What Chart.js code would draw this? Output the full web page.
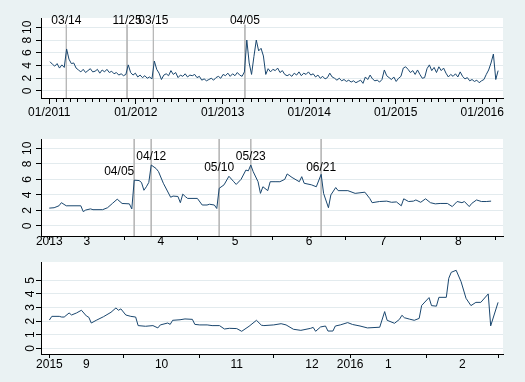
<!DOCTYPE html>
<html>
<head>
<meta charset="utf-8">
<script src="https://cdn.jsdelivr.net/npm/chart.js@4.4.0/dist/chart.umd.min.js"></script>
<style>
  html, body { margin: 0; padding: 0; background: #eaf2f3; }
  body { width: 525px; height: 382px; position: relative; overflow: hidden; }
  canvas { position: absolute; left: 0; }
</style>
</head>
<body>
<canvas id="c1" width="525" height="124" style="top:0px"></canvas>
<canvas id="c2" width="525" height="124" style="top:124px"></canvas>
<canvas id="c3" width="525" height="134" style="top:248px"></canvas>
<script>
// ---- panel 1: full sample, one reading every 10 days from 4 Jan 2011
const p1Start = "2011-01-04";
const p1Step = 10;
const p1Values = [
  4.6, 4.2, 3.9, 4.3, 3.6, 4.1, 3.7, 6.6, 5.0, 4.3,
  4.4, 3.6, 3.3, 3.0, 3.4, 2.9, 3.2, 3.5, 3.0, 3.1,
  3.4, 2.8, 3.3, 3.0, 3.4, 2.9, 3.1, 2.7, 2.9, 2.5,
  2.7, 2.4, 2.6, 4.1, 2.9, 2.5, 2.8, 2.2, 2.5, 2.1,
  2.4, 2.0, 2.2, 1.9, 4.7, 3.4, 2.8, 1.8, 2.5, 2.7,
  2.4, 3.2, 2.6, 2.9, 2.1, 2.5, 2.3, 2.7, 2.2, 2.5,
  2.4, 2.6, 2.1, 2.3, 1.7, 1.9, 1.6, 1.8, 2.0, 1.7,
  2.1, 2.3, 2.0, 2.6, 2.4, 2.8, 2.3, 2.7, 2.4, 2.9,
  2.5, 2.3, 3.0, 8.0, 4.4, 2.6, 5.4, 8.0, 6.3, 6.7,
  5.5, 2.6, 3.5, 3.0, 3.4, 3.2, 3.6, 2.9, 3.2, 2.6,
  2.4, 2.6, 2.3, 2.8, 2.5, 3.0, 2.4, 2.8, 2.6, 3.0,
  2.5, 2.7, 2.2, 2.5, 2.0, 2.3, 1.9, 2.1, 2.8, 2.2,
  2.0, 1.7, 2.0, 1.6, 1.8, 1.5, 1.7, 1.4, 1.6, 1.3,
  1.5, 1.7, 1.2, 2.2, 1.8, 2.5, 1.9, 1.6, 1.7, 1.4,
  1.8, 3.3, 2.4, 2.1, 1.8, 2.2, 1.5, 2.0, 2.3, 3.6,
  3.8, 3.4, 2.9, 3.2, 2.6, 3.3, 2.6, 2.0, 2.1, 3.5,
  4.1, 3.2, 3.7, 2.9, 3.8, 3.2, 3.6, 2.8, 2.2, 2.6,
  2.3, 2.7, 2.2, 3.0, 2.3, 1.9, 2.1, 1.6, 1.8, 1.5,
  1.7, 1.3, 1.6, 1.8, 2.6, 3.3, 4.4, 5.8, 1.8, 3.2
];
const p1Events = ["2011-03-14", "2011-11-25", "2012-03-15", "2013-04-05"];
const p1EventLabels = ["03/14", "11/25", "03/15", "04/05"];
const p1YTicks = [0, 2, 4, 6, 8, 10];
const p1YearLabels = ["01/2011", "01/2012", "01/2013", "01/2014", "01/2015", "01/2016"];

// ---- panel 2: March to August 2013
const p2Dates = [
  "2013-03-01","2013-03-03","2013-03-05","2013-03-06","2013-03-08","2013-03-14","2013-03-15","2013-03-16",
  "2013-03-18","2013-03-19","2013-03-23","2013-03-25","2013-03-27","2013-03-29","2013-03-31","2013-04-03",
  "2013-04-04","2013-04-05","2013-04-07","2013-04-08","2013-04-09","2013-04-10","2013-04-11","2013-04-12",
  "2013-04-14","2013-04-15","2013-04-17","2013-04-20","2013-04-21","2013-04-23","2013-04-24","2013-04-25",
  "2013-04-26","2013-04-27","2013-05-01","2013-05-03","2013-05-05","2013-05-06","2013-05-08","2013-05-09",
  "2013-05-10","2013-05-12","2013-05-14","2013-05-16","2013-05-17","2013-05-19","2013-05-21","2013-05-22",
  "2013-05-23","2013-05-24","2013-05-26","2013-05-27","2013-05-28","2013-05-30","2013-05-31","2013-06-02",
  "2013-06-04","2013-06-06","2013-06-07","2013-06-09","2013-06-12","2013-06-13","2013-06-14","2013-06-17",
  "2013-06-19","2013-06-21","2013-06-22","2013-06-24","2013-06-25","2013-06-27","2013-06-28","2013-07-02",
  "2013-07-05","2013-07-09","2013-07-11","2013-07-12","2013-07-15","2013-07-18","2013-07-20","2013-07-22",
  "2013-07-24","2013-07-25","2013-07-27","2013-07-29","2013-07-30","2013-08-01","2013-08-03","2013-08-05",
  "2013-08-07","2013-08-09","2013-08-12","2013-08-14","2013-08-16","2013-08-18","2013-08-19","2013-08-21",
  "2013-08-22","2013-08-24","2013-08-26","2013-08-28","2013-08-30"
];
const p2Values = [
  2.30, 2.35, 2.60, 3.00, 2.60, 2.60, 1.85, 2.05,
  2.20, 2.10, 2.10, 2.35, 2.90, 3.45, 2.90, 2.85,
  2.20, 5.90, 5.85, 5.60, 4.60, 5.05, 5.60, 7.85,
  7.40, 7.00, 5.50, 3.70, 3.85, 3.80, 3.00, 4.10,
  3.80, 3.55, 3.55, 2.70, 2.70, 2.80, 2.70, 2.25,
  4.85, 5.30, 6.40, 5.70, 5.35, 6.00, 7.20, 7.10,
  7.85, 7.00, 5.70, 4.20, 5.05, 4.55, 5.70, 5.70,
  5.70, 6.00, 6.70, 6.25, 5.70, 6.35, 5.50, 5.30,
  5.05, 6.65, 4.20, 2.35, 4.00, 4.95, 4.55, 4.55,
  4.20, 4.35, 3.55, 3.00, 3.15, 3.20, 3.05, 3.10,
  2.60, 3.50, 3.15, 3.20, 3.35, 3.05, 3.50, 3.00,
  2.85, 2.90, 2.90, 2.50, 3.15, 3.00, 3.15, 2.50,
  2.90, 3.35, 3.15, 3.15, 3.20
];
const p2Events = ["2013-04-05", "2013-04-12", "2013-05-10", "2013-05-23", "2013-06-21"];
const p2EventLabels = ["04/05", "04/12", "05/10", "05/23", "06/21"];
const p2LabelLevels = [7.0, 8.9, 7.55, 8.9, 7.55];
const p2LabelAlign = ["right", "center", "center", "center", "center"];
const p2YTicks = [0, 2, 4, 6, 8, 10];
const p2MonthStarts = ["2013-03-01","2013-04-01","2013-05-01","2013-06-01","2013-07-01","2013-08-01","2013-09-01"];
const p2StartLabels = ["2013", "", "", "", "", "", ""];
const p2MonthLabels = ["3", "4", "5", "6", "7", "8"];

// ---- panel 3: September 2015 to February 2016
const p3Dates = [
  "2015-09-01","2015-09-02","2015-09-05","2015-09-06","2015-09-07","2015-09-09","2015-09-10","2015-09-12",
  "2015-09-14","2015-09-16","2015-09-17","2015-09-18","2015-09-20","2015-09-23","2015-09-26","2015-09-28",
  "2015-09-29","2015-09-30","2015-10-02","2015-10-04","2015-10-06","2015-10-07","2015-10-10","2015-10-13",
  "2015-10-15","2015-10-16","2015-10-19","2015-10-20","2015-10-21","2015-10-24","2015-10-26","2015-10-29",
  "2015-10-30","2015-11-01","2015-11-04","2015-11-06","2015-11-09","2015-11-11","2015-11-13","2015-11-16",
  "2015-11-18","2015-11-21","2015-11-24","2015-11-26","2015-11-27","2015-12-01","2015-12-04","2015-12-06",
  "2015-12-09","2015-12-12","2015-12-16","2015-12-17","2015-12-18","2015-12-20","2015-12-22","2015-12-23",
  "2015-12-25","2015-12-26","2015-12-28","2015-12-31","2016-01-02","2016-01-05","2016-01-08","2016-01-13",
  "2016-01-15","2016-01-16","2016-01-19","2016-01-21","2016-01-22","2016-01-23","2016-01-25","2016-01-27",
  "2016-01-29","2016-01-30","2016-02-02","2016-02-03","2016-02-05","2016-02-06","2016-02-09","2016-02-10",
  "2016-02-11","2016-02-13","2016-02-15","2016-02-17","2016-02-19","2016-02-21","2016-02-23","2016-02-26",
  "2016-02-27","2016-03-01"
];
const p3Values = [
  2.08, 2.35, 2.35, 2.30, 2.30, 2.60, 2.45, 2.60,
  2.80, 2.38, 2.28, 1.86, 2.06, 2.33, 2.65, 2.97,
  2.80, 2.90, 2.45, 2.35, 2.30, 1.67, 1.62, 1.67,
  1.50, 1.72, 1.86, 1.76, 2.06, 2.10, 2.16, 2.13,
  1.76, 1.72, 1.72, 1.67, 1.67, 1.42, 1.47, 1.45,
  1.25, 1.62, 2.06, 1.70, 1.67, 1.72, 1.81, 1.72,
  1.40, 1.32, 1.47, 1.54, 1.25, 1.57, 1.64, 1.27,
  1.27, 1.64, 1.72, 1.89, 1.75, 1.64, 1.50, 1.55,
  2.70, 2.06, 1.84, 2.13, 2.43, 2.25, 2.15, 2.06,
  2.20, 3.15, 3.73, 3.14, 3.10, 3.75, 3.75, 5.15,
  5.59, 5.74, 4.90, 3.68, 3.14, 3.38, 3.38, 4.00,
  1.65, 3.38
];
const p3YTicks = [0, 1, 2, 3, 4, 5];
const p3MonthStarts = ["2015-09-01","2015-10-01","2015-11-01","2015-12-01","2016-01-01","2016-02-01","2016-03-01"];
const p3StartLabels = ["2015", "", "", "", "2016", "", ""];
const p3MonthLabels = ["9", "10", "11", "12", "1", "2"];

// ---- helpers
const DAY = 864e5;
const dayOf = (s, origin) => (Date.parse(s) - Date.parse(origin)) / DAY;
const FONT = { family: '"Liberation Sans", Arial, sans-serif', size: 12 };
const NAVY = "#1a476f";
const GRID = "#e3ebee";
const VLINE = "#b8b8b8";

const plotBg = {
  id: "plotBg",
  beforeDraw(chart) {
    const a = chart.chartArea, c = chart.ctx;
    c.save();
    c.fillStyle = "#ffffff";
    c.fillRect(a.left, a.top, a.right - a.left, a.bottom - a.top);
    c.restore();
  }
};

const eventText = {
  id: "eventText",
  afterDatasetsDraw(chart, args, opts) {
    const x = chart.scales.x, y = chart.scales.y, c = chart.ctx;
    c.save();
    c.font = '12px "Liberation Sans", Arial, sans-serif';
    c.fillStyle = "#000";
    c.textBaseline = "middle";
    (opts.items || []).forEach(it => {
      c.textAlign = it.align;
      c.fillText(it.text, x.getPixelForValue(it.x), y.getPixelForValue(it.y));
    });
    c.restore();
  }
};

// monthly axis: ticks at month starts, numbers centred inside each month
function monthTicks(starts, startLabels, monthLabels, origin) {
  const out = [];
  starts.forEach((s, i) => {
    const d = dayOf(s, origin);
    out.push({ v: d, label: startLabels[i], kind: "major" });
    if (i < monthLabels.length) {
      const next = dayOf(starts[i + 1], origin);
      out.push({ v: (d + next) / 2, label: monthLabels[i], kind: "label" });
    }
  });
  return out;
}

function panel(id, o) {
  const xt = o.xTicks;
  const datasets = [{
    data: o.points, borderColor: NAVY, borderWidth: 1, pointRadius: 0,
    tension: 0, borderJoinStyle: "round"
  }];
  o.events.forEach(d => datasets.push({
    data: [{ x: d, y: o.lineTop }, { x: d, y: o.yMin }],
    borderColor: VLINE, borderWidth: 1, pointRadius: 0
  }));
  return new Chart(document.getElementById(id), {
    type: "line",
    data: { datasets },
    options: {
      responsive: false, animation: false, events: [], devicePixelRatio: 1,
      layout: { padding: { top: o.top, right: 22, bottom: 0, left: 0 } },
      plugins: { legend: { display: false }, tooltip: { enabled: false }, eventText: { items: o.texts } },
      scales: {
        x: {
          type: "linear", min: o.xMin, max: o.xMax,
          afterBuildTicks: s => { s.ticks = xt.map(t => ({ value: t.v })); },
          afterFit: s => { s.height = o.xAxisH; },
          ticks: {
            autoSkip: false, minRotation: 0, maxRotation: 0, padding: o.xPad,
            color: "#000", font: FONT, callback: (v, i) => xt[i].label
          },
          grid: {
            display: true, drawOnChartArea: false, drawTicks: true, tickLength: o.tickLen, tickWidth: 1,
            tickColor: c => (xt[c.index] && xt[c.index].kind === "label") ? "rgba(0,0,0,0)" : "#000",
            tickBorderDash: c => (xt[c.index] && xt[c.index].kind === "minor") ? [3, 20] : []
          },
          border: { display: true, color: "#000", width: 1 }
        },
        y: {
          type: "linear", min: o.yMin, max: o.yMax,
          afterBuildTicks: s => { s.ticks = o.yTicks.map(v => ({ value: v })); },
          afterFit: s => { s.width = 41; },
          ticks: {
            autoSkip: false, minRotation: 90, maxRotation: 90, crossAlign: "center", padding: 2,
            color: "#000", font: FONT, callback: v => String(v)
          },
          grid: { color: GRID, lineWidth: 1, drawTicks: true, tickLength: 5, tickColor: "#000", tickWidth: 1 },
          border: { display: true, color: "#000", width: 1 }
        }
      }
    },
    plugins: [plotBg, eventText]
  });
}

// ---- panel 1 build
const o1 = "2011-01-01";
const s1 = dayOf(p1Start, o1);
const p1Points = p1Values.map((v, i) => ({ x: s1 + i * p1Step, y: v }));
const p1Ticks = [];
for (let yr = 2011; yr <= 2016; yr++) {
  for (let m = 1; m <= 12; m++) {
    if (yr === 2016 && m > 3) break;
    const s = yr + "-" + String(m).padStart(2, "0") + "-01";
    p1Ticks.push({ v: dayOf(s, o1), label: m === 1 ? p1YearLabels[yr - 2011] : "", kind: m === 1 ? "major" : "minor" });
  }
}
panel("c1", {
  points: p1Points, xTicks: p1Ticks, xMin: -35, xMax: 1913.5,
  yMin: -1.1, yMax: 11.46, yTicks: p1YTicks, top: 18, xAxisH: 26, tickLen: 6, xPad: 1.5,
  events: p1Events.map(d => dayOf(d, o1)), lineTop: 10.4,
  texts: p1Events.map((d, i) => ({ x: dayOf(d, o1), y: 11.07, text: p1EventLabels[i], align: "center" }))
});

// ---- panel 2 build
const o2 = "2013-03-01";
panel("c2", {
  points: p2Dates.map((d, i) => ({ x: dayOf(d, o2), y: p2Values[i] })),
  xTicks: monthTicks(p2MonthStarts, p2StartLabels, p2MonthLabels, o2),
  xMin: -3.4, xMax: 186.9, yMin: -1.29, yMax: 11.2, yTicks: p2YTicks,
  top: 15, xAxisH: 12, tickLen: 4, xPad: -5.5,
  events: p2Events.map(d => dayOf(d, o2)), lineTop: 11.2,
  texts: p2Events.map((d, i) => ({ x: dayOf(d, o2), y: p2LabelLevels[i], text: p2EventLabels[i], align: p2LabelAlign[i] }))
});

// ---- panel 3 build
const o3 = "2015-09-01";
panel("c3", {
  points: p3Dates.map((d, i) => ({ x: dayOf(d, o3), y: p3Values[i] })),
  xTicks: monthTicks(p3MonthStarts, p3StartLabels, p3MonthLabels, o3),
  xMin: -3.4, xMax: 184, yMin: -0.42, yMax: 6.35, yTicks: p3YTicks,
  top: 14, xAxisH: 28, tickLen: 4, xPad: -0.5,
  events: [], lineTop: 6.35, texts: []
});
</script>
</body>
</html>
